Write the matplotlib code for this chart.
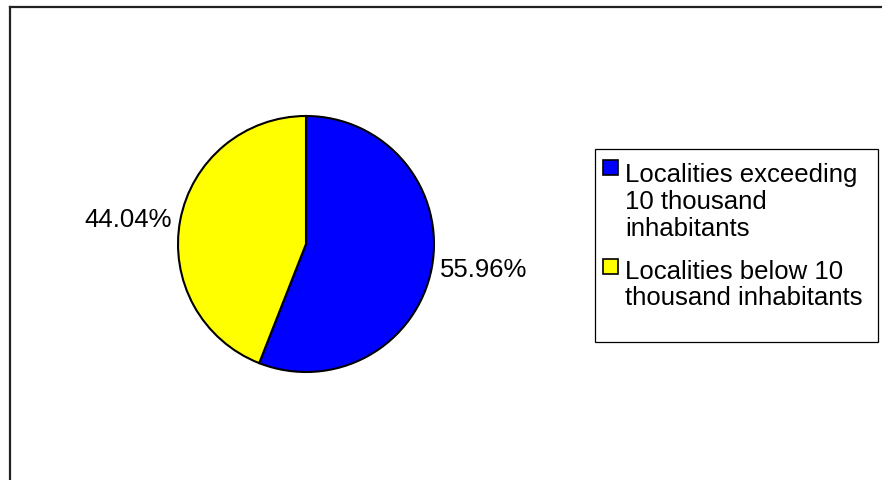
import matplotlib
matplotlib.use("Agg")
import matplotlib.pyplot as plt
from matplotlib.patches import Rectangle
from matplotlib.lines import Line2D

plt.rcParams["font.family"] = ["Liberation Sans", "DejaVu Sans"]

labels = ["Localities exceeding\n10 thousand\ninhabitants",
          "Localities below 10\nthousand inhabitants"]
shares = [55.96, 44.04]
colors = ["#0000FF", "#FFFF00"]

W, H = 882, 481
cx, cy, r = 306, 245, 128
fig = plt.figure(figsize=(W / 100, H / 100), dpi=100)
ax = fig.add_axes([0, 0, 1, 1])

# pie in pixel units; y axis points down so the rotation sense is flipped
wedges, texts = ax.pie(
    shares, colors=colors, center=(cx, cy), radius=r,
    startangle=-90, counterclock=True,
    labels=[f"{v:.2f}%" for v in shares], labeldistance=1.065,
    wedgeprops=dict(edgecolor="black", linewidth=1.5),
    textprops=dict(fontsize=18.5), frame=True)
for t in texts:
    t.set_ha("left" if t.get_position()[0] > cx else "right")
    t.set_va("center")
ax.set_xlim(0, W)
ax.set_ylim(H, 0)
ax.set_aspect("equal")
ax.axis("off")

# outer frame (only top and left edges are visible)
ax.add_line(Line2D([9.5, 9.5], [H, 7.5], color="#222222", lw=1.6))
ax.add_line(Line2D([9.5, W], [7.5, 7.5], color="#222222", lw=1.6))

# legend box drawn by hand so markers sit on the first text line
ax.add_patch(Rectangle((594.5, 149.5), 283.5, 193.5, fill=False,
                       edgecolor="black", lw=0.9))
line_h = 29.5
base = 177
for lab, col in zip(labels, colors):
    n = lab.count("\n") + 1
    ax.add_patch(Rectangle((602.5, base - 16), 15, 15, facecolor=col,
                           edgecolor="black", lw=1.2))
    # matplotlib puts the last line on the baseline
    ax.text(625, base + (n - 1) * line_h, lab, fontsize=18.5,
            va="baseline", ha="left", linespacing=1.15)
    base += (n - 1) * line_h + 40

fig.savefig("out.png", dpi=100)
